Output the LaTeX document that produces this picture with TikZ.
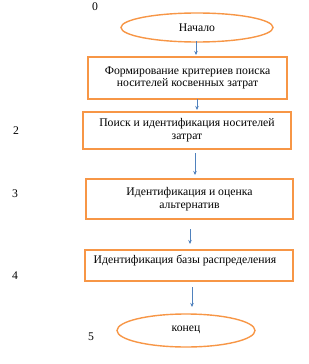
\documentclass[tikz,border=0pt]{standalone}
\usepackage{fontspec}
\setmainfont{Liberation Serif}
\usetikzlibrary{shapes.geometric,arrows.meta}
\definecolor{ob}{HTML}{F79646}
\definecolor{ar}{HTML}{4F81BD}
\tikzset{
  txt/.style={font=\fontsize{11.7}{12.8}\selectfont},
  stepbox/.style={draw=ob,line width=2pt,fill=white,inner sep=0pt,txt,align=center},
  term/.style={ellipse,draw=ob,line width=1.4pt,inner sep=0pt,txt},
  conn/.style={draw=ar,line width=0.6pt,-{Stealth[length=4pt,width=3.5pt]}},
  num/.style={txt,inner sep=0pt}
}
\begin{document}
\begin{tikzpicture}[x=1pt,y=-1pt]
\useasboundingbox (0,0) rectangle (308,364);
\node[term,minimum width=152pt,minimum height=29pt] (start) at (197,27.5) {Начало};
\node[stepbox,minimum width=199pt,minimum height=42pt] (b1) at (187.5,78) {Формирование критериев поиска\\носителей косвенных затрат};
\node[stepbox,minimum width=208pt,minimum height=37pt] (b2) at (187,130.5) {Поиск и идентификация носителей\\затрат};
\node[stepbox,minimum width=207pt,minimum height=40pt] (b3) at (189.5,199) {Идентификация и оценка\\альтернатив};
\node[stepbox,minimum width=208pt,minimum height=31pt] (b4) at (189,265.5) {};
\node[txt,inner sep=0pt] (t4) at (185,261) {Идентификация базы распределения};
\node[term,minimum width=138pt,minimum height=33pt] (end) at (186,330.5) {\raisebox{3pt}{конец}};
\node[num] (n0) at (95,7) {0};
\node[num] (n2) at (16,131) {2};
\node[num] (n3) at (15,194) {3};
\node[num] (n4) at (15,276) {4};
\node[num] (n5) at (91,337) {5};
\coordinate (a1s) at (196,41); \coordinate (a1e) at (196,55);
\coordinate (a2s) at (197,99); \coordinate (a2e) at (197,110);
\coordinate (a3s) at (195,153); \coordinate (a3e) at (195,175);
\coordinate (a4s) at (190,229); \coordinate (a4e) at (190,244);
\coordinate (a5s) at (192,287); \coordinate (a5e) at (192,307);
\draw[conn] (a1s) -- (a1e);
\draw[conn] (a2s) -- (a2e);
\draw[conn] (a3s) -- (a3e);
\draw[conn] (a4s) -- (a4e);
\draw[conn] (a5s) -- (a5e);
\end{tikzpicture}
\end{document}
